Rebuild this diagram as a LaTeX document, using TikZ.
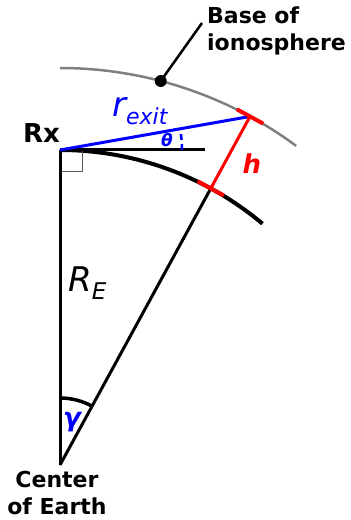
\documentclass[tikz,border=0pt]{standalone}
\usepackage{fontspec}
\setmainfont{DejaVu Sans}[ItalicFont={DejaVu Sans Oblique},BoldItalicFont={DejaVu Sans Bold Oblique}]
\usetikzlibrary{calc}

\begin{document}
\begin{tikzpicture}[x=1pt,y=1pt,
    lbl/.style={inner sep=0pt},
    geoline/.style={line width=3pt},
    ticks/.style={red,line width=4pt}]

        \useasboundingbox (0,0) rectangle (351,520);

        % Define parameters
        \def\RE{315}        % Earth radius
        \def\Rion{397}      % Radius of the ionosphere base
        \def\gam{28.6}      % Angle gamma at the center
        \pgfmathsetmacro{\exitang}{90-\gam} % Angle of the exit point

        % Key points
        \coordinate (C) at (60,55);
        \coordinate (Rx) at ($(C)+(90:\RE pt)$);
        \coordinate (G) at ($(C)+(\exitang:\RE pt)$);    % ground below exit
        \coordinate (X) at ($(C)+(\exitang:\Rion pt)$);  % exit point
        \coordinate (T) at ($(Rx)+(145pt,0)$);           % end of tangent
        \coordinate (D) at ($(C)+(75.3:\Rion pt)$);      % marker on ionosphere
        \coordinate (P) at (202,497);

        % Draw the ionosphere base and the Earth surface
        \draw[gray,line width=2.5pt] ($(C)+(90:\Rion pt)$) arc[start angle=90,end angle=53.5,radius=\Rion pt];
        \draw[line width=4pt] (Rx) arc[start angle=90,end angle=50,radius=\RE pt];

        % Right angle at Rx
        \draw[gray!70!black,line width=1pt] (Rx) rectangle ++(22,-22);

        % Radii and tangent
        \draw[geoline] (C) -- (Rx);
        \draw[geoline] (C) -- (G);
        \draw[geoline] (Rx) -- (T);
        \draw[geoline,blue] (Rx) -- (X);
        \draw[geoline,red] (G) -- (X);

        % Red ticks at both ends of h
        \draw[ticks] ($(X)!15pt!90:(C)$) -- ($(X)!15pt!-90:(C)$);
        \draw[ticks] ($(G)!15pt!90:(C)$) -- ($(G)!15pt!-90:(C)$);

        % Angles
        \draw[blue,line width=2.5pt,dash pattern=on 6pt off 4pt] ($(Rx)+(122pt,0)$) arc[start angle=0,end angle=10,radius=122pt];
        \draw[line width=3.5pt] ($(C)+(90:67pt)$) arc[start angle=90,end angle=\exitang,radius=67pt];

        % Marker and pointer
        \fill (D) circle (6pt);
        \draw[line width=2.5pt] (D) -- (P);

        % Labels
        \node[lbl,anchor=north west,align=left,font=\fontsize{22}{27}\selectfont\bfseries] (ion) at (207,513) {Base of\\ionosphere};
        \node[lbl,anchor=base east,font=\fontsize{26}{26}\selectfont\bfseries] (rx) at (60,377) {Rx};
        \node[lbl,anchor=base west,blue] (rexit) at (112,403) {{\fontsize{34}{34}\selectfont\itshape r}\raisebox{-8pt}{\fontsize{22}{22}\selectfont\itshape exit}};
        \node[lbl,blue,font=\fontsize{17}{17}\selectfont\bfseries\itshape] (theta) at (167,380) {θ};
        \node[lbl,red,font=\fontsize{26}{26}\selectfont\bfseries\itshape] (h) at (252,356) {h};
        \node[lbl,anchor=base west] (re) at (68,228) {{\fontsize{34}{34}\selectfont\itshape R}\raisebox{-8pt}{\fontsize{23}{23}\selectfont\itshape E}};
        \node[lbl,blue,font=\fontsize{26}{26}\selectfont\bfseries\itshape] (gamma) at (72,98) {γ};
        \node[lbl,anchor=north,align=center,font=\fontsize{22}{27}\selectfont\bfseries] (ctr) at (57,49) {Center\\of Earth};

    \end{tikzpicture}
\end{document}
